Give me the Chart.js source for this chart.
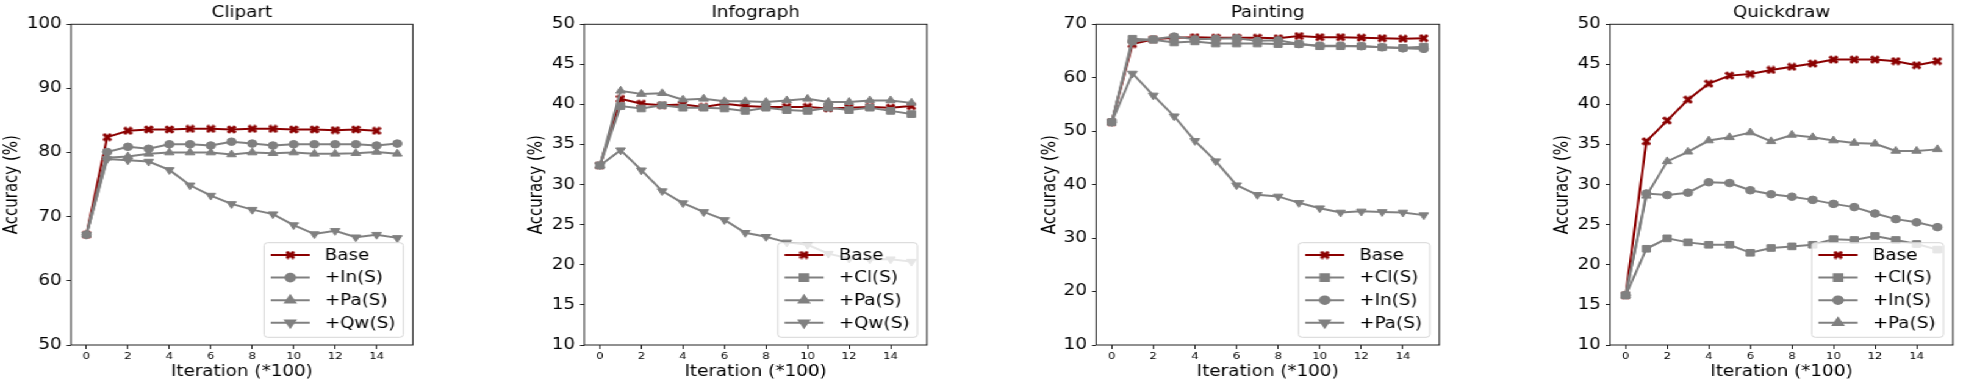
<!DOCTYPE html>
<html lang="en">
<head>
<meta charset="UTF-8">
<title>Accuracy vs Iteration</title>
<script src="https://cdn.jsdelivr.net/npm/chart.js@4.4.0/dist/chart.umd.min.js"></script>
<style>
    html, body { margin: 0; padding: 0; background: #fff; overflow: hidden; }
    #wrap { position: absolute; left: 0; top: 0; height: 382px; transform-origin: 0 0; }
    .panel { position: absolute; top: 0; height: 382px; }
</style>
</head>
<body>
<div id="wrap"></div>
<script>
    // the source figure is stretched sideways, so draw narrow and widen
    const S = 1.22;

    const iterations = [0, 1, 2, 3, 4, 5, 6, 7, 8, 9, 10, 11, 12, 13, 14, 15];
    const xTicks = [0, 2, 4, 6, 8, 10, 12, 14];

    // Clipart
    const clipartBase = [67.2, 82.4, 83.4, 83.6, 83.6, 83.7, 83.7, 83.6, 83.7, 83.7, 83.6, 83.6, 83.5, 83.6, 83.4];
    const clipartIn = [67.2, 80.1, 80.9, 80.6, 81.3, 81.3, 81.1, 81.7, 81.4, 81.1, 81.3, 81.3, 81.3, 81.3, 81.1, 81.4];
    const clipartPa = [67.2, 79.2, 79.4, 79.8, 80.0, 80.0, 80.0, 79.7, 80.0, 79.9, 80.0, 79.8, 79.8, 79.9, 80.1, 79.8];
    const clipartQw = [67.2, 79.0, 78.8, 78.6, 77.3, 74.9, 73.3, 72.0, 71.1, 70.4, 68.7, 67.3, 67.8, 66.8, 67.2, 66.7];

    // Infograph
    const infoBase = [32.4, 40.7, 40.1, 39.9, 40.0, 39.7, 40.1, 39.8, 39.7, 39.7, 39.7, 39.5, 39.6, 39.7, 39.6, 39.8];
    const infoCl = [32.4, 39.8, 39.5, 39.9, 39.6, 39.6, 39.5, 39.2, 39.6, 39.3, 39.2, 39.6, 39.3, 39.6, 39.2, 38.8];
    const infoPa = [32.4, 41.7, 41.3, 41.4, 40.6, 40.7, 40.4, 40.4, 40.3, 40.5, 40.7, 40.3, 40.3, 40.5, 40.5, 40.2];
    const infoQw = [32.4, 34.3, 31.8, 29.2, 27.7, 26.6, 25.6, 24.0, 23.5, 22.8, 22.5, 21.4, 20.8, 20.7, 20.7, 20.4];

    // Painting
    const paintBase = [51.7, 66.3, 67.2, 67.5, 67.6, 67.5, 67.5, 67.5, 67.4, 67.8, 67.6, 67.6, 67.5, 67.4, 67.3, 67.4];
    const paintCl = [51.7, 67.3, 67.1, 66.6, 66.8, 66.4, 66.4, 66.4, 66.3, 66.3, 65.9, 65.9, 65.9, 65.7, 65.6, 65.8];
    const paintIn = [51.7, 66.8, 67.2, 67.7, 67.2, 67.3, 67.4, 66.9, 67.0, 66.3, 66.0, 66.0, 65.9, 65.7, 65.5, 65.4];
    const paintPa = [51.7, 60.8, 56.7, 52.8, 48.2, 44.4, 39.9, 38.1, 37.8, 36.6, 35.6, 34.8, 35.0, 34.9, 34.8, 34.3];

    // Quickdraw
    const quickBase = [16.2, 35.4, 38.0, 40.6, 42.6, 43.6, 43.8, 44.3, 44.7, 45.1, 45.6, 45.6, 45.6, 45.4, 44.9, 45.4];
    const quickCl = [16.2, 22.0, 23.3, 22.8, 22.5, 22.5, 21.5, 22.1, 22.3, 22.5, 23.2, 23.1, 23.6, 23.1, 22.6, 21.9];
    const quickIn = [16.2, 28.9, 28.7, 29.0, 30.3, 30.2, 29.3, 28.8, 28.5, 28.1, 27.6, 27.2, 26.4, 25.7, 25.3, 24.7];
    const quickPa = [16.2, 28.6, 32.9, 34.1, 35.5, 35.9, 36.5, 35.4, 36.2, 35.9, 35.5, 35.2, 35.1, 34.2, 34.2, 34.4];

    const RED = '#8b0000';
    const GRAY = '#808080';
    const FONT = "'DejaVu Sans', sans-serif";

    Chart.defaults.font.family = FONT;
    Chart.defaults.color = '#000';

    // filled "X" marker like matplotlib's
    const xMark = document.createElement('canvas');
    xMark.width = 8; xMark.height = 9;
    (function () {
        const c = xMark.getContext('2d');
        c.strokeStyle = RED;
        c.lineWidth = 3;
        c.beginPath();
        c.moveTo(1, 1.2); c.lineTo(7, 7.8);
        c.moveTo(7, 1.2); c.lineTo(1, 7.8);
        c.stroke();
    })();

    const markers = {
        base: { pointStyle: xMark, pointRadius: 4.5, rotation: 0 },
        rect: { pointStyle: 'rect', pointRadius: 4.7, rotation: 0 },
        circle: { pointStyle: 'circle', pointRadius: 3.8, rotation: 0 },
        up: { pointStyle: 'triangle', pointRadius: 4.5, rotation: 0 },
        down: { pointStyle: 'triangle', pointRadius: 4.5, rotation: 180 }
    };

    // panel placement in final page pixels (plot box and y label centre)
    const panels = [
        { title: 'Clipart', left: 70.7, right: 412.7, yLabel: 12, min: 50, max: 100, step: 10,
          series: [['Base', clipartBase, 'base'], ['+In(S)', clipartIn, 'circle'], ['+Pa(S)', clipartPa, 'up'], ['+Qw(S)', clipartQw, 'down']] },
        { title: 'Infograph', left: 584, right: 925.7, yLabel: 536.7, min: 10, max: 50, step: 5,
          series: [['Base', infoBase, 'base'], ['+Cl(S)', infoCl, 'rect'], ['+Pa(S)', infoPa, 'up'], ['+Qw(S)', infoQw, 'down']] },
        { title: 'Painting', left: 1095.7, right: 1439, yLabel: 1050, min: 10, max: 70, step: 10,
          series: [['Base', paintBase, 'base'], ['+Cl(S)', paintCl, 'rect'], ['+In(S)', paintIn, 'circle'], ['+Pa(S)', paintPa, 'down']] },
        { title: 'Quickdraw', left: 1609.7, right: 1951.7, yLabel: 1562.7, min: 10, max: 50, step: 5,
          series: [['Base', quickBase, 'base'], ['+Cl(S)', quickCl, 'rect'], ['+In(S)', quickIn, 'circle'], ['+Pa(S)', quickPa, 'up']] }
    ];

    const wrap = document.getElementById('wrap');
    wrap.style.width = (1962 / S) + 'px';
    wrap.style.transform = 'scaleX(' + S + ')';

    const frameAndLegend = {
        id: 'frameAndLegend',
        afterDraw(chart) {
            const ctx = chart.ctx;
            const a = chart.chartArea;
            ctx.save();
            ctx.strokeStyle = '#222';
            ctx.lineWidth = 1;
            ctx.strokeRect(a.left, a.top, a.right - a.left, a.bottom - a.top);

            // legend box, bottom right inside the axes
            ctx.font = '15px ' + FONT;
            const items = chart.data.datasets;
            let maxW = 0;
            items.forEach(d => { maxW = Math.max(maxW, ctx.measureText(d.label).width); });
            const w = 49.8 + maxW + 6.5;
            const h = 94.6;
            const x0 = a.right - 9.5 / S - w;
            const y0 = a.bottom - 7.7 - h;
            ctx.fillStyle = 'rgba(255,255,255,0.8)';
            ctx.strokeStyle = '#d6d6d6';
            ctx.beginPath();
            ctx.roundRect(x0, y0, w, h, 3);
            ctx.fill();
            ctx.stroke();

            items.forEach((d, i) => {
                const y = y0 + 12.3 + i * 22.6;
                ctx.strokeStyle = d.borderColor;
                ctx.lineWidth = 2;
                ctx.beginPath();
                ctx.moveTo(x0 + 5.5, y);
                ctx.lineTo(x0 + 37.5, y);
                ctx.stroke();
                ctx.fillStyle = d.borderColor;
                Chart.helpers.drawPoint(ctx, {
                    pointStyle: d.pointStyle, radius: d.pointRadius,
                    rotation: d.pointRotation, borderWidth: 1
                }, x0 + 21.5, y);
                ctx.fillStyle = '#000';
                ctx.textBaseline = 'middle';
                ctx.textAlign = 'left';
                ctx.fillText(d.label, x0 + 49.8, y + 1);
            });
            ctx.restore();
        }
    };

    panels.forEach((p, idx) => {
        const canvasLeft = p.yLabel / S - 9;
        const yWidth = p.left / S - canvasLeft;
        const width = p.right / S - canvasLeft + 6;

        const box = document.createElement('div');
        box.className = 'panel';
        box.style.left = canvasLeft + 'px';
        box.style.width = width + 'px';
        const cv = document.createElement('canvas');
        box.appendChild(cv);
        wrap.appendChild(box);

        const datasets = p.series.map(([label, values, kind], i) => {
            const color = kind === 'base' ? RED : GRAY;
            const m = markers[kind];
            return {
                label: label,
                data: values.map((v, k) => ({ x: iterations[k], y: v })),
                borderColor: color,
                backgroundColor: color,
                borderWidth: 2,
                pointStyle: m.pointStyle,
                pointRadius: m.pointRadius,
                pointRotation: m.rotation,
                pointBorderWidth: 1,
                pointBackgroundColor: color,
                pointBorderColor: color,
                tension: 0,
                order: p.series.length - i
            };
        });

        new Chart(cv, {
            type: 'line',
            data: { datasets: datasets },
            options: {
                responsive: true,
                maintainAspectRatio: false,
                animation: false,
                layout: { padding: { left: 0, right: 6, top: 0, bottom: 0 } },
                plugins: {
                    legend: { display: false },
                    tooltip: { enabled: false },
                    title: {
                        display: true,
                        text: p.title,
                        fullSize: false,
                        color: '#000',
                        font: { size: 15, weight: 'normal' },
                        padding: { top: 4, bottom: 2.3 }
                    }
                },
                scales: {
                    x: {
                        type: 'linear',
                        min: -0.75,
                        max: 15.75,
                        afterBuildTicks: axis => { axis.ticks = xTicks.map(v => ({ value: v })); },
                        afterFit: axis => { axis.height = 37; },
                        grid: { drawOnChartArea: false, drawTicks: true, tickLength: 4, color: '#222' },
                        border: { display: false },
                        ticks: { font: { size: 9.5 }, color: '#000', padding: 2, maxRotation: 0 },
                        title: {
                            display: true,
                            text: 'Iteration (*100)',
                            color: '#000',
                            font: { size: 15 },
                            padding: { top: 0, bottom: 1.3 }
                        }
                    },
                    y: {
                        min: p.min,
                        max: p.max,
                        afterFit: axis => { axis.width = yWidth; },
                        grid: { drawOnChartArea: false, drawTicks: true, tickLength: 3.5, color: '#222' },
                        border: { display: false },
                        ticks: { stepSize: p.step, font: { size: 15 }, color: '#000', padding: 4 },
                        title: {
                            display: true,
                            text: 'Accuracy (%)',
                            color: '#000',
                            font: { size: 15 },
                            padding: { top: 0, bottom: 0 }
                        }
                    }
                }
            },
            plugins: [frameAndLegend]
        });
    });
</script>
</body>
</html>
